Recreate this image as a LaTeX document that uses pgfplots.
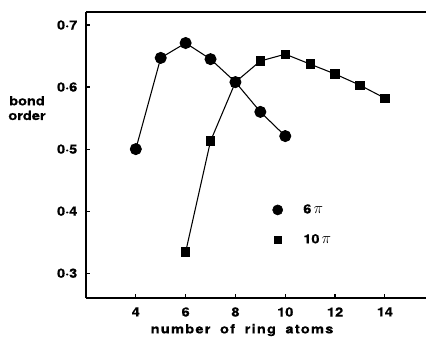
\documentclass[border=0pt]{standalone}
\usepackage{pgfplots}
\pgfplotsset{compat=1.18}
\usepackage{fontspec}
\setmainfont[FakeStretch=1.15,FakeBold=0.6]{TeX Gyre Heros}
\newfontfamily\labfont[FakeStretch=1.15,FakeBold=0.6,LetterSpace=10,WordSpace=1.8]{TeX Gyre Heros}
\begin{document}
\begin{tikzpicture}[x=1pt,y=1pt]
\useasboundingbox (-64.5,-31.5) rectangle (255,223.5);
\begin{axis}[
  at={(0,0)}, anchor=south west,
  scale only axis, width=255pt, height=214.5pt,
  xmin=2, xmax=15.65, ymin=0.26, ymax=0.721,
  axis x line*=box, axis y line*=left,
  xtick pos=left, ytick pos=left,
  tick align=inside, major tick length=3pt,
  axis line style={line width=1.3pt},
  every tick/.style={line width=0.9pt,black},
  xtick={4,6,8,10,12,14}, xticklabels={4,6,8,10,12,14},
  ytick={0.3,0.4,0.5,0.6,0.7}, yticklabels={0·3,0·4,0·5,0·6,0·7},
  ticklabel style={font=\fontsize{9.5}{11}\bfseries},
  xticklabel style={yshift=-3.5pt},
  yticklabel style={xshift=-3pt},
  xlabel={\labfont\bfseries number of ring atoms},
  xlabel style={at={(axis description cs:0.459,-0.112)}, anchor=center, font=\fontsize{9.5}{11}},
  ylabel={\bfseries bond\\\bfseries order},
  ylabel style={at={(axis description cs:-0.1735,0.664)}, rotate=-90, anchor=center, align=center, font=\fontsize{9.5}{11}\selectfont},
  legend style={draw=none, fill=none, at={(axis cs:9.3,0.42)}, anchor=north west, font=\fontsize{9.5}{11}\bfseries, row sep=10pt},
  legend cell align=left,
  legend image code/.code={\path (-4pt,0pt) (17pt,0pt); \draw[#1] plot coordinates {(0pt,0pt)};},
]
\addplot[black, line width=0.8pt, mark=*, mark size=4.1pt, mark options={solid,fill=black}, forget plot]
coordinates {(4,0.500) (5,0.647) (6,0.671) (7,0.645) (8,0.608) (9,0.560) (10,0.521)};
\addplot[black, line width=0.8pt, mark=square*, mark size=3.1pt, mark options={solid,fill=black}, forget plot]
coordinates {(6,0.334) (7,0.513) (8,0.608) (9,0.642) (10,0.653) (11,0.637) (12,0.621) (13,0.603) (14,0.582)};
\addlegendimage{only marks, black, mark=*, mark size=3.8pt}
\addlegendentry{6\,{\fontsize{13}{13}\selectfont$\pi$}}
\addlegendimage{only marks, black, mark=square*, mark size=2.6pt}
\addlegendentry{10\,{\fontsize{13}{13}\selectfont$\pi$}}
\end{axis}
\end{tikzpicture}
\end{document}
